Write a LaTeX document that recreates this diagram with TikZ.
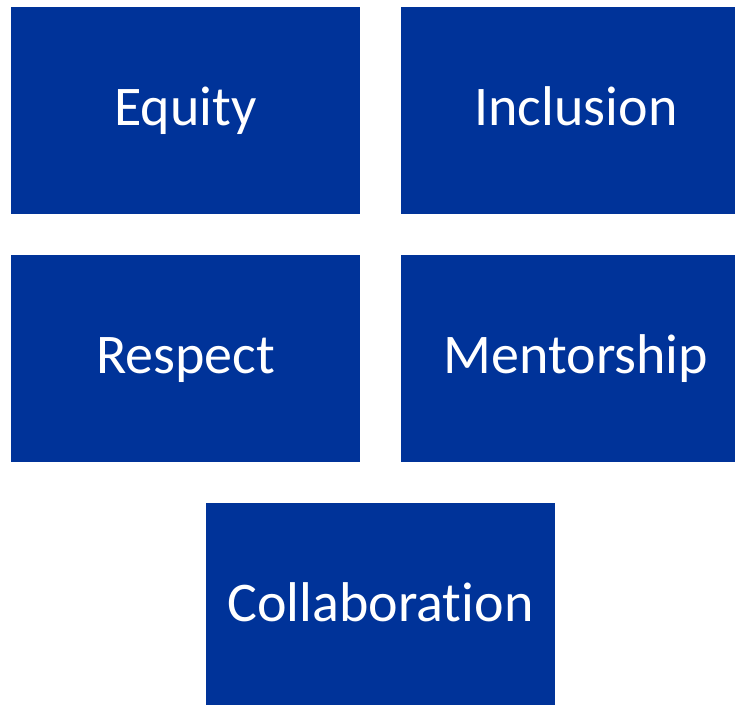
\documentclass[tikz,border=0pt]{standalone}
\usepackage{fontspec}
\setmainfont[Ligatures={NoCommon,NoRare,NoDiscretionary}]{Carlito}
\definecolor{boxblue}{RGB}{0,51,153}
\begin{document}
\begin{tikzpicture}[x=1pt,y=-1pt,
  valuebox/.style={fill=boxblue, draw=none, inner sep=0pt, outer sep=0pt,
    text=white, minimum height=207pt, text height=35pt, text depth=6pt,
    font=\fontsize{56}{60}\selectfont}]
\useasboundingbox (0,0) rectangle (735,704);
\node[valuebox, minimum width=349pt] (equity) at (185.5,110.5) {Equity};
\node[valuebox, minimum width=334pt] (inclusion) at (568,110.5) {\hspace{16pt}Inclusion};
\node[valuebox, minimum width=349pt] (respect) at (185.5,358.5) {Respect};
\node[valuebox, minimum width=334pt] (mentorship) at (568,358.5) {\hspace{16pt}Mentorship};
\node[valuebox, minimum width=349pt] (collab) at (380.5,606.5) {Collaboration};
\end{tikzpicture}
\end{document}
